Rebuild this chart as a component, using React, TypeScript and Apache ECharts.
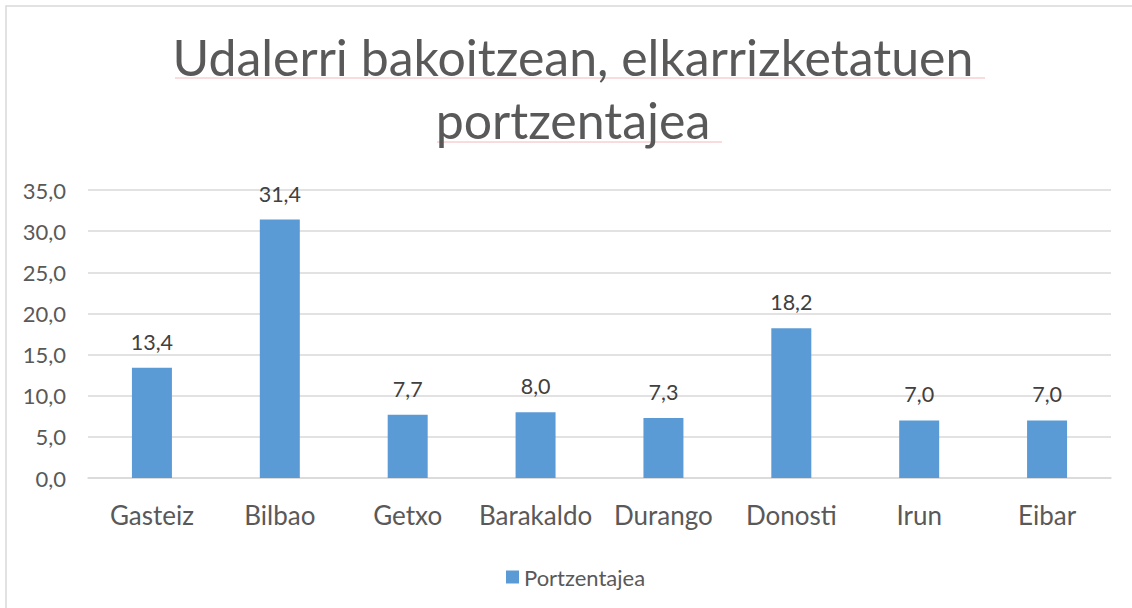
import React, { useEffect, useRef } from "react";
import * as echarts from "echarts";

const categories = ["Gasteiz", "Bilbao", "Getxo", "Barakaldo", "Durango", "Donosti", "Irun", "Eibar"];
const values = [13.4, 31.4, 7.7, 8.0, 7.3, 18.2, 7.0, 7.0];
const seriesName = "Portzentajea";
const titleLines = ["Udalerri bakoitzean, elkarrizketatuen", "portzentajea"];

const FONT = "Lato, 'Open Sans', sans-serif";
const TXT = "#595959";

export default function App() {
  const ref = useRef<HTMLDivElement>(null);
  useEffect(() => {
    if (!ref.current) return;
    const chart = echarts.init(ref.current, undefined, { renderer: "svg" });
    chart.setOption({
      animation: false,
      backgroundColor: "#ffffff",
      textStyle: { fontFamily: FONT },
      title: {
        text: titleLines.join("\n"),
        left: 568,
        textAlign: "center",
        top: 20,
        textStyle: { fontFamily: FONT, fontSize: 50, fontWeight: "normal", color: TXT, lineHeight: 63 },
      },
      legend: {
        data: [seriesName],
        left: 501,
        top: 561,
        itemWidth: 13,
        itemHeight: 13,
        itemGap: 6,
        icon: "rect",
        textStyle: { fontFamily: FONT, fontSize: 22, color: TXT },
      },
      grid: { left: 88, right: 21, top: 190, bottom: 130, containLabel: false },
      xAxis: {
        type: "category",
        data: categories,
        axisLine: { lineStyle: { color: "#D9D9D9", width: 1.5 } },
        axisTick: { show: false },
        axisLabel: { fontFamily: FONT, fontSize: 26, color: TXT, margin: 24, interval: 0, hideOverlap: false },
      },
      yAxis: {
        type: "value",
        min: 0,
        max: 35,
        interval: 5,
        axisLine: { show: false },
        axisTick: { show: false },
        splitLine: { lineStyle: { color: "#D9D9D9", width: 1.5 } },
        axisLabel: {
          fontFamily: FONT,
          fontSize: 22,
          color: TXT,
          margin: 22,
          formatter: (v: number) => v.toFixed(1).replace(".", ","),
        },
      },
      series: [
        {
          name: seriesName,
          type: "bar",
          data: values,
          barWidth: 40,
          itemStyle: { color: "#5B9BD5" },
          label: {
            show: true,
            position: "top",
            distance: 15,
            fontFamily: FONT,
            fontSize: 21.5,
            color: "#404040",
            formatter: (p: any) => Number(p.value).toFixed(1).replace(".", ","),
          },
        },
      ],
      graphic: [
        {
          type: "rect",
          shape: { x: 6, y: 6, width: 1140, height: 620 },
          style: { fill: "none", stroke: "#D9D9D9", lineWidth: 1.5 },
          silent: true,
        },
        {
          type: "line",
          shape: { x1: 175, y1: 78, x2: 985, y2: 78 },
          style: { stroke: "#F4B8B8", lineWidth: 1 },
          silent: true,
        },
        {
          type: "line",
          shape: { x1: 437, y1: 142, x2: 722, y2: 142 },
          style: { stroke: "#F4B8B8", lineWidth: 1 },
          silent: true,
        },
      ],
    });
    return () => chart.dispose();
  }, []);
  return <div ref={ref} style={{ position: "fixed", left: 0, top: 0, width: 1132, height: 608 }} />;
}
